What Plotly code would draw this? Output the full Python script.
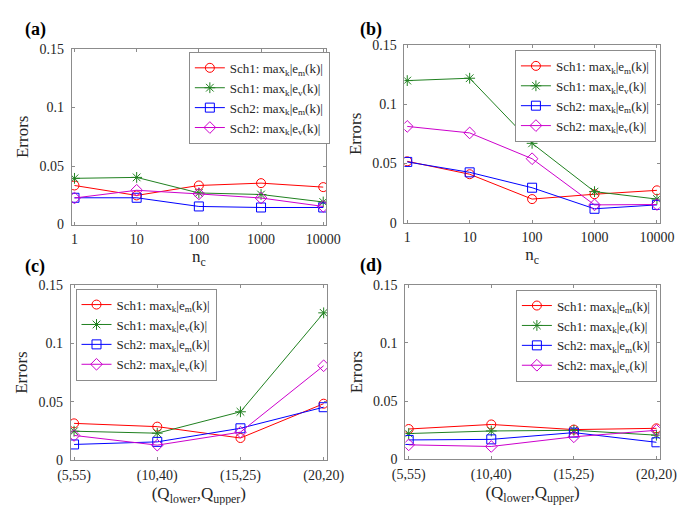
import plotly.graph_objects as go

W, H = 685, 505

nc = [1, 10, 100, 1000, 10000]
nc_labels = ["1", "10", "100", "1000", "10000"]
q_cats = ["(5,55)", "(10,40)", "(15,25)", "(20,20)"]

# Panel (a)
a_sch1_em = [0.0334, 0.0249, 0.0334, 0.0354, 0.0320]
a_sch1_ev = [0.0395, 0.0403, 0.0270, 0.0257, 0.0193]
a_sch2_em = [0.0229, 0.0229, 0.0155, 0.0146, 0.0146]
a_sch2_ev = [0.0227, 0.0293, 0.0262, 0.0227, 0.0155]
# Panel (b)
b_sch1_em = [0.0518, 0.0409, 0.0199, 0.0240, 0.0273]
b_sch1_ev = [0.1200, 0.1220, 0.0670, 0.0262, 0.0199]
b_sch2_em = [0.0513, 0.0425, 0.0295, 0.0117, 0.0150]
b_sch2_ev = [0.0813, 0.0758, 0.0540, 0.0150, 0.0153]
# Panel (c)
c_sch1_em = [0.0316, 0.0288, 0.0191, 0.0484]
c_sch1_ev = [0.0249, 0.0232, 0.0415, 0.1260]
c_sch2_em = [0.0136, 0.0158, 0.0274, 0.0454]
c_sch2_ev = [0.0213, 0.0130, 0.0241, 0.0808]
# Panel (d)
d_sch1_em = [0.0261, 0.0300, 0.0256, 0.0267]
d_sch1_ev = [0.0222, 0.0244, 0.0250, 0.0208]
d_sch2_em = [0.0167, 0.0172, 0.0230, 0.0147]
d_sch2_ev = [0.0125, 0.0111, 0.0194, 0.0250]

names = ["Sch1: max<sub>k</sub>|e<sub>m</sub>(k)|",
         "Sch1: max<sub>k</sub>|e<sub>v</sub>(k)|",
         "Sch2: max<sub>k</sub>|e<sub>m</sub>(k)|",
         "Sch2: max<sub>k</sub>|e<sub>v</sub>(k)|"]
colors = ["#ff0000", "#208020", "#0000ff", "#cc00cc"]
symbols = ["circle-open", "asterisk-open", "square-open", "diamond-open"]

FONT = "Liberation Serif"
AXC = "#8c8c8c"
TXT = "#262626"

def fx(px):
    return px / W

def fy(px):
    return 1 - px / H

# pixel boxes: (x0, x1, ytop, ybottom)
boxes = {
    "a": (53, 319, 35, 216),
    "b": (401, 668, 31, 214),
    "c": (52, 320, 278, 459),
    "d": (402, 668, 278, 458),
}
# legend anchor: (x, y, xanchor)
legend_pos = {
    "a": (323, 38, "right"),
    "b": (664, 36, "right"),
    "c": (57, 282, "left"),
    "d": (665, 283, "right"),
}

panels = [
    ("a", nc, [a_sch1_em, a_sch1_ev, a_sch2_em, a_sch2_ev]),
    ("b", nc, [b_sch1_em, b_sch1_ev, b_sch2_em, b_sch2_ev]),
    ("c", [1, 2, 3, 4], [c_sch1_em, c_sch1_ev, c_sch2_em, c_sch2_ev]),
    ("d", [1, 2, 3, 4], [d_sch1_em, d_sch1_ev, d_sch2_em, d_sch2_ev]),
]

fig = go.Figure()
layout = dict(width=W, height=H, margin=dict(l=0, r=0, t=0, b=0),
              paper_bgcolor="white", plot_bgcolor="white",
              font=dict(family=FONT, color=TXT), annotations=[])

for i, (key, xs, series) in enumerate(panels):
    n = i + 1
    xa = "x" if n == 1 else f"x{n}"
    ya = "y" if n == 1 else f"y{n}"
    lg = "legend" if n == 1 else f"legend{n}"
    for j, ys in enumerate(series):
        fig.add_trace(go.Scatter(
            x=xs, y=ys, mode="lines+markers", name=names[j],
            xaxis=xa, yaxis=ya, legend=lg,
            line=dict(color=colors[j], width=1),
            marker=dict(symbol=symbols[j], size=9, color=colors[j],
                        line=dict(width=1, color=colors[j]))))
    x0, x1, yt, yb = boxes[key]
    common = dict(showline=True, linecolor=AXC, linewidth=1, mirror="ticks",
                  ticks="inside", ticklen=3, tickcolor=AXC, showgrid=False,
                  zeroline=False, tickfont=dict(family=FONT, size=14, color=TXT))
    if key in ("a", "b"):
        xaxis = dict(type="log", range=[-0.045, 4.045], tickvals=nc, ticktext=nc_labels,
                     title=dict(text="n<sub>c</sub>", font=dict(family=FONT, size=17, color=TXT),
                                standoff=0),
                     **common)
    else:
        xaxis = dict(range=[0.96, 4.04], tickvals=[1, 2, 3, 4], ticktext=q_cats,
                     title=dict(text="(Q<sub>lower</sub>,Q<sub>upper</sub>)",
                                font=dict(family=FONT, size=17, color=TXT), standoff=0),
                     **common)
    xaxis["domain"] = [fx(x0), fx(x1)]
    xaxis["anchor"] = ya
    xaxis["ticklabelstandoff"] = 2
    yaxis = dict(range=[0, 0.15], tickvals=[0, 0.05, 0.1, 0.15],
                 ticktext=["0", "0.05", "0.1", "0.15"],
                 title=dict(text="Errors", font=dict(family=FONT, size=17, color=TXT), standoff=6),
                 domain=[fy(yb), fy(yt)], anchor=xa, ticklabelstandoff=4, **common)
    layout["xaxis" if n == 1 else f"xaxis{n}"] = xaxis
    layout["yaxis" if n == 1 else f"yaxis{n}"] = yaxis
    lx, ly, xanc = legend_pos[key]
    layout[lg] = dict(x=fx(lx), y=fy(ly), xanchor=xanc, yanchor="top",
                      bgcolor="white", bordercolor=AXC, borderwidth=1,
                      font=dict(family=FONT, size=13, color=TXT),
                      tracegroupgap=0, itemwidth=30)

labels = [("(a)", 2, 2), ("(b)", 352, 2), ("(c)", 2, 246), ("(d)", 352, 245)]
for txt, px, py in labels:
    layout["annotations"].append(dict(
        text=f"<b>{txt}</b>", x=fx(px), y=fy(py), xref="paper", yref="paper",
        xanchor="left", yanchor="top", showarrow=False,
        font=dict(family=FONT, size=18, color="black")))

fig.update_layout(**layout)
fig.write_html("out.html")
